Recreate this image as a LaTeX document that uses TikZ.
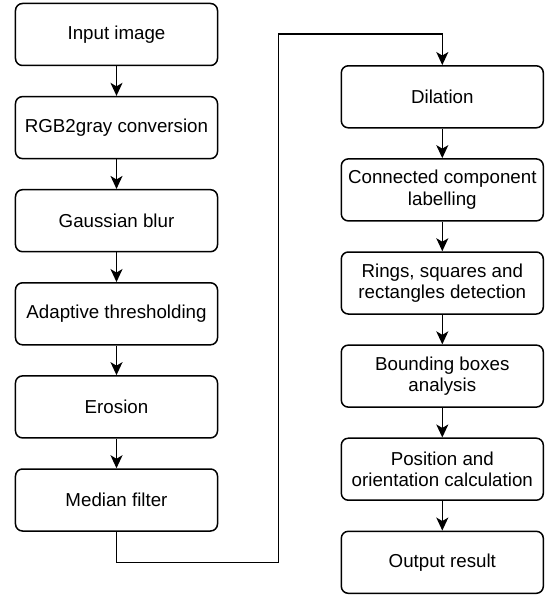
\documentclass[tikz,border=0pt]{standalone}
\usepackage{fontspec}
\setmainfont{Liberation Sans}
\usetikzlibrary{arrows.meta}
\begin{document}
\begin{tikzpicture}[x=1bp,y=-1bp,
 box/.style={draw, rounded corners=7bp, line width=1.5bp, minimum width=202bp, minimum height=62bp, inner sep=0pt, align=center, font=\fontsize{18.8}{21.7}\selectfont},
 arr/.style={line width=1.5bp, -{Stealth[length=13bp,width=12bp,inset=3.5bp]}}]
\useasboundingbox (0,0) rectangle (548,595);
\node[box] (in)  at (116.5,34.5)  {Input image};
\node[box] (rgb) at (116.5,127.6) {RGB2gray conversion};
\node[box] (gau) at (116.5,220.7) {Gaussian blur};
\node[box] (ada) at (116.5,313.8) {Adaptive thresholding};
\node[box] (ero) at (116.5,406.9) {Erosion};
\node[box] (med) at (116.5,500)   {Median filter};
\node[box] (dil) at (442.3,96.8)  {Dilation};
\node[box] (ccl) at (442.3,189.9) {Connected component\\labelling};
\node[box] (rin) at (442.3,283)   {Rings, squares and\\rectangles detection};
\node[box] (bba) at (442.3,376.1) {Bounding boxes\\analysis};
\node[box] (poc) at (442.3,469.2) {Position and\\orientation calculation};
\node[box] (out) at (442.3,562.3) {Output result};
\coordinate (c1) at (116.5,562.3);
\coordinate (c2) at (278.7,562.3);
\coordinate (c3) at (278.7,34);
\coordinate (c4) at (442.3,34);
\draw[arr] (in) -- (rgb);
\draw[arr] (rgb) -- (gau);
\draw[arr] (gau) -- (ada);
\draw[arr] (ada) -- (ero);
\draw[arr] (ero) -- (med);
\draw[arr] (med.south) -- (c1) -- (c2) -- (c3) -- (c4) -- (dil.north);
\draw[arr] (dil) -- (ccl);
\draw[arr] (ccl) -- (rin);
\draw[arr] (rin) -- (bba);
\draw[arr] (bba) -- (poc);
\draw[arr] (poc) -- (out);
\end{tikzpicture}
\end{document}
